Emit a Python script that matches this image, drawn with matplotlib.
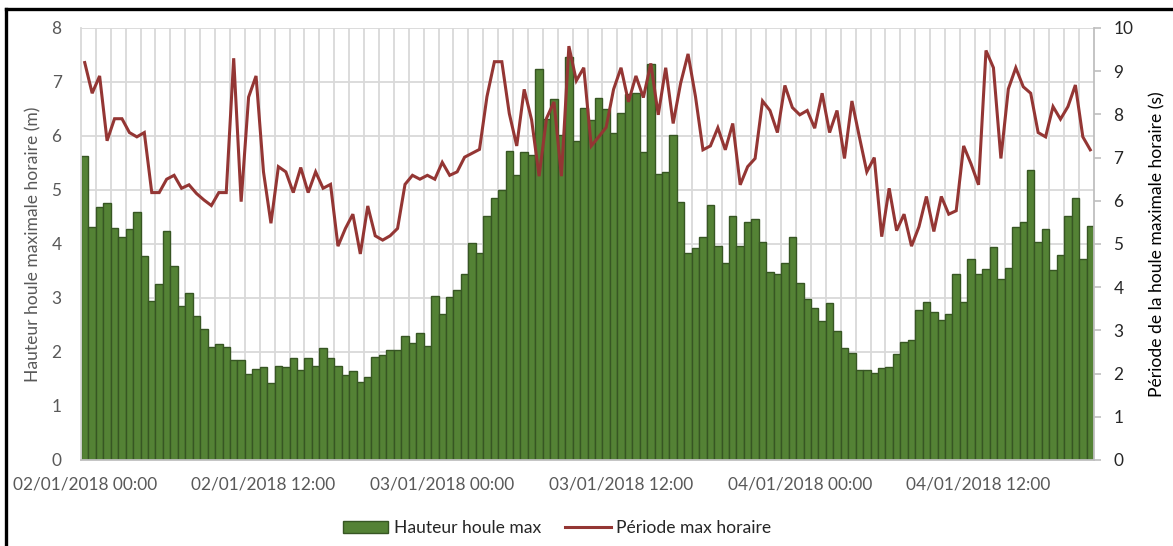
import matplotlib.pyplot as plt
from matplotlib.patches import Patch
from matplotlib.lines import Line2D
import numpy as np

plt.rcParams['font.family'] = ['Lato', 'DejaVu Sans']

# hauteur de houle max, pas de 30 min depuis le 02/01/2018 00:00 (m)
hauteur = [5.63, 4.32, 4.68, 4.76, 4.30, 4.13, 4.28, 4.60, 3.77, 2.95, 3.26, 4.24, 3.60, 2.86,
           3.10, 2.67, 2.43, 2.10, 2.14, 2.09, 1.85, 1.85, 1.60, 1.68, 1.73, 1.43, 1.75,
           1.72, 1.88, 1.67, 1.88, 1.74, 2.07, 1.88, 1.75, 1.57, 1.65, 1.45, 1.54, 1.90, 1.94,
           2.04, 2.04, 2.30, 2.16, 2.36, 2.12, 3.04, 2.70, 3.01, 3.14, 3.44, 4.01, 3.84, 4.52, 4.85,
           5.00, 5.72, 5.27, 5.70, 5.65, 7.24, 6.31, 6.69, 6.01, 7.47, 5.90, 6.52, 6.30, 6.71,
           6.50, 6.05, 6.42, 6.78, 6.80, 5.71, 7.34, 5.29, 5.33, 6.01, 4.77, 3.83, 3.93,
           4.13, 4.72, 3.97, 3.65, 4.52, 3.97, 4.41, 4.47, 4.04, 3.49, 3.44, 3.64, 4.13, 3.28,
           2.99, 2.82, 2.57, 2.90, 2.38, 2.08, 1.99, 1.67, 1.67, 1.62, 1.70, 1.72, 1.97, 2.19,
           2.23, 2.78, 2.93, 2.75, 2.59, 2.70, 3.44, 2.93, 3.73, 3.44, 3.53, 3.94, 3.36, 3.56,
           4.32, 4.41, 5.37, 4.04, 4.28, 3.51, 3.79, 4.51, 4.85, 3.73, 4.33]

# période max horaire (s)
periode = [9.20, 8.49, 8.89, 7.39, 7.90, 7.90, 7.58, 7.48, 7.58, 6.19, 6.19, 6.50, 6.59, 6.29,
           6.37, 6.17, 6.02, 5.89, 6.19, 6.19, 9.30, 5.98, 8.40, 8.89, 6.67, 5.48, 6.79, 6.67,
           6.19, 6.77, 6.19, 6.67, 6.29, 6.38, 4.95, 5.36, 5.69, 4.77, 5.88, 5.19, 5.09, 5.19,
           5.36, 6.38, 6.59, 6.50, 6.59, 6.50, 6.89, 6.59, 6.67, 7.01, 7.10, 7.19, 8.41,
           9.22, 9.22, 8.02, 7.27, 8.58, 7.87, 6.57, 7.91, 8.29, 6.57, 9.58, 8.78, 9.08, 7.27,
           7.48, 7.70, 8.58, 9.08, 8.29, 8.89, 8.39, 9.18, 7.99, 9.08, 7.79, 8.72, 9.40, 8.41,
           7.18, 7.27, 7.69, 7.18, 7.79, 6.37, 6.79, 6.98, 8.31, 8.09, 7.58, 8.67, 8.16, 7.99,
           8.09, 7.68, 8.49, 7.58, 8.09, 6.98, 8.31, 7.48, 6.67, 7.00, 5.17, 6.29,
           5.31, 5.69, 4.95, 5.40, 6.10, 5.29, 6.10, 5.69, 5.77, 7.27, 6.85, 6.37, 9.48, 9.08,
           6.98, 8.59, 9.08, 8.64, 8.49, 7.58, 7.48, 8.18, 7.89, 8.18, 8.68, 7.48, 7.18]

etiquettes = ['02/01/2018 00:00', '02/01/2018 12:00', '03/01/2018 00:00',
              '03/01/2018 12:00', '04/01/2018 00:00', '04/01/2018 12:00']

vert = '#548235'
rouge = '#943634'
gris = '#595959'

W, H = 1173, 546
fig = plt.figure(figsize=(W / 100, H / 100), dpi=100)
ax = fig.add_axes([81 / W, 1 - 460 / H, (1094 - 81) / W, (460 - 28) / H])
ax2 = ax.twinx()

x = np.arange(len(hauteur))
n = len(x)

# grille
for v in range(1, 9):
    ax.axhline(v, color='#d9d9d9', lw=1.3, zorder=0)
for xv in np.arange(1.5, n - 1, 2):
    ax.axvline(xv, color='#d9d9d9', lw=1.3, zorder=0)

ax.bar(x, hauteur, width=1.0, color=vert, edgecolor='#375623', linewidth=1.0, zorder=2)
ax2.plot(x, periode, color=rouge, lw=2.2, solid_joinstyle='miter')

ax.set_xlim(-0.5, n - 0.5)
ax.set_ylim(0, 8)
ax2.set_ylim(0, 10)

# axe x : une graduation par heure, une étiquette toutes les 12 h
ax.set_xticks(np.arange(1.5, n - 1, 2), minor=True)
ax.set_xticks(np.arange(0, n, 24))
ax.set_xticklabels(etiquettes)
ax.tick_params(axis='x', which='minor', direction='in', length=5, width=1.2, color='#bfbfbf')
ax.tick_params(axis='x', which='major', length=0, pad=12, labelsize=12.4, labelcolor=gris)

ax.set_yticks(range(9))
ax.tick_params(axis='y', length=0, pad=14, labelsize=12.4, labelcolor=gris)
ax2.set_yticks(range(11))
ax2.tick_params(axis='y', length=5, width=1.2, color='#bfbfbf', pad=9,
                labelsize=12.4, labelcolor='#262626')

for s in ['top', 'right']:
    ax.spines[s].set_visible(False)
ax.spines['left'].set_color('#d9d9d9')
ax.spines['left'].set_linewidth(1.3)
ax.spines['bottom'].set_color('#bfbfbf')
ax.spines['bottom'].set_linewidth(1.3)
for s in ['top', 'left', 'bottom']:
    ax2.spines[s].set_visible(False)
ax2.spines['right'].set_color('#bfbfbf')
ax2.spines['right'].set_linewidth(1.3)

fig.text(33 / W, 1 - 244 / H, 'Hauteur houle maximale horaire (m)', rotation=90,
         ha='center', va='center', fontsize=12.6, color=gris)
fig.text(1157 / W, 1 - 244 / H, 'Période de la houle maximale horaire (s)', rotation=90,
         ha='center', va='center', fontsize=12.6, color='black')

poignees = [Patch(facecolor=vert, edgecolor='#375623', linewidth=1.0),
            Line2D([0], [0], color=rouge, lw=2.2)]
fig.legend(poignees, ['Hauteur houle max', 'Période max horaire'],
           loc='center', bbox_to_anchor=(557 / W, 1 - 528 / H), ncol=2, frameon=False,
           fontsize=12.6, handlelength=2.6, handleheight=0.7, handletextpad=0.3,
           columnspacing=1.4, labelcolor='#262626')

# cadre noir
fig.add_artist(Line2D([5.7 / W, 5.7 / W], [0, 1 - 9 / H], color='black', lw=2.4))
fig.add_artist(Line2D([5.7 / W, 1], [1 - 9 / H, 1 - 9 / H], color='black', lw=2.4))

fig.savefig('out.png', dpi=100)
